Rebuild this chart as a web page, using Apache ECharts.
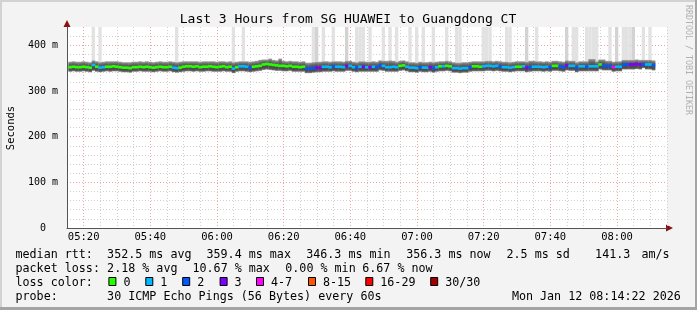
<!DOCTYPE html>
<html><head><meta charset="utf-8">
<script src="https://cdn.jsdelivr.net/npm/echarts@6/dist/echarts.min.js"></script>
<style>html,body{margin:0;padding:0;background:#f3f3f3}#c{width:697px;height:310px}</style>
</head><body><div id="c"></div>
<script>
// ---------------- DATA ----------------
const titleText = 'Last 3 Hours from SG HUAWEI to Guangdong CT';
const firstSample = 15.4;           // minutes after 05:00 of first 1-minute sample
const median = [
352,353,352,352,353,352,351,357,353,351,
352,353,353,354,353,352,351,351,350,352,
352,353,352,353,352,351,352,353,352,352,
353,351,350,351,353,354,354,353,354,352,
353,353,354,353,352,353,354,352,353,349,
352,354,354,353,351,353,354,355,358,359,
358,357,356,355,355,354,355,353,353,352,
353,349,349,350,351,351,353,353,352,354,
353,353,352,355,355,352,351,353,353,352,
352,353,352,356,355,352,352,353,352,355,
356,353,351,351,350,352,351,351,352,350,
352,354,354,355,354,350,350,349,350,350,
352,354,354,353,354,355,355,354,355,353,
352,352,351,352,353,353,354,351,352,353,
353,353,352,353,352,355,355,354,352,356,
355,355,351,354,354,353,354,354,354,358,
355,355,355,352,353,353,358,358,358,358,
359,358,358,358,358,356];
const loss = [
0,0,0,0,0,0,0,1,0,1,
1,0,0,0,0,0,0,0,0,0,
0,0,0,0,0,0,0,0,0,0,
0,1,1,0,0,0,0,0,0,0,
0,0,0,0,0,0,0,0,0,1,
0,1,1,1,2,0,0,0,0,0,
0,0,0,0,0,0,0,0,0,0,
0,2,2,2,3,3,1,1,1,2,
1,1,1,3,1,1,2,1,3,1,
3,1,2,2,1,1,1,1,1,0,
0,1,1,1,1,2,1,1,3,2,
1,0,1,0,0,1,1,1,1,1,
2,0,0,0,1,1,1,1,1,2,
1,1,1,1,0,0,1,3,2,1,
1,1,1,1,2,0,0,2,2,3,
1,1,2,1,1,2,1,1,1,0,
2,2,2,4,1,1,2,2,3,3,
3,3,2,1,1,2];
const smokeLo = [
342,343,342,342,343,342,341,344,342,341,
342,343,342,343,343,342,341,341,340,342,
342,343,342,342,342,341,342,343,342,342,
343,341,340,341,342,343,343,342,343,342,
342,343,343,342,342,342,343,342,342,339,
342,343,343,342,341,342,343,344,346,347,
346,345,344,344,343,343,344,342,342,342,
342,339,339,340,341,341,342,342,342,343,
342,342,342,344,344,342,341,342,342,342,
342,342,342,345,344,342,342,342,342,344,
345,343,341,341,340,342,341,341,342,340,
342,343,343,344,343,340,340,339,340,340,
342,343,343,343,343,344,344,343,344,343,
342,342,341,342,343,343,343,341,342,343,
343,343,342,343,342,344,344,343,342,345,
344,344,341,343,343,343,343,343,343,347,
345,345,345,342,343,343,347,347,347,347,
348,347,350,347,347,345];
const smokeHi = [
364,365,364,364,365,364,363,367,365,363,
364,365,365,365,365,364,363,363,363,364,
364,365,364,365,364,363,364,365,364,364,
365,364,363,364,365,365,365,365,365,364,
365,365,365,365,364,365,365,364,365,363,
364,365,365,365,364,365,366,368,369,369,
371,368,367,371,366,365,366,365,365,364,
365,362,362,363,364,364,365,365,364,365,
365,365,364,366,366,364,363,365,365,364,
364,365,364,367,366,366,367,366,364,366,
367,365,363,363,362,364,363,363,364,363,
364,365,365,366,365,363,362,362,363,363,
364,365,365,365,365,366,366,365,366,365,
364,364,363,364,365,365,365,364,366,366,
365,365,364,365,364,366,366,365,364,367,
366,366,363,365,365,365,370,370,365,369,
369,366,366,364,365,365,368,368,368,368,
369,368,368,368,368,367];
// samples where some pings went above the graph top
const outlierSamples = [7,9,32,49,52,73,74,76,79,83,86,87,88,90,94,96,98,102,104,106,109,113,116,117,
  124,125,126,131,132,137,140,149,151,152,155,156,157,158,162,164,166,167,168,169,172,174];
const outlierHeavy = [74,83,137,149,164,169];
const lossColors = ['#26ff00','#00b8ff','#0059ff','#7e00ff','#ff00ff','#ff5500','#ff0000','#a10000'];
const lossLabels = ['0','1','2','3','4-7','8-15','16-29','30/30'];
const yTickValues = [0,100,200,300,400];
const statMedian = ['median rtt:','352.5 ms avg','359.4 ms max','346.3 ms min','356.3 ms now','2.5 ms sd','141.3','am/s'];
const statLoss = ['packet loss:','2.18 % avg','10.67 % max','0.00 % min','6.67 % now'];
const probeText = ['probe:','30 ICMP Echo Pings (56 Bytes) every 60s','Mon Jan 12 08:14:22 2026'];

// ---------------- CHART ----------------
const MONO = "'DejaVu Sans Mono', 'Liberation Mono', monospace";
const yMax = 440;
const pad = n => (n < 10 ? '0' : '') + n;
const fmtTime = v => { v = Math.round(v); return pad(5 + Math.floor(v / 60)) + ':' + pad(v % 60); };

const smokeData = median.map((_, i) => [firstSample + i, smokeLo[i], smokeHi[i]]);
const medianData = median.map((m, i) => [firstSample + i, m, loss[i]]);
const outlierData = outlierSamples.map(i => [firstSample + i, smokeHi[i], outlierHeavy.indexOf(i) >= 0 ? 1 : 0]);

const smokeGrad = new echarts.graphic.LinearGradient(0, 0, 0, 1, [
  {offset: 0, color: '#a8a8a8'}, {offset: 0.14, color: '#7c7c7c'}, {offset: 0.3, color: '#5e5e5e'},
  {offset: 0.55, color: '#505050'}, {offset: 0.78, color: '#4a4a4a'}, {offset: 0.9, color: '#5e5e5e'}, {offset: 1, color: '#8c8c8c'}]);

function renderOutlier(params, api) {
  const p1 = api.coord([api.value(0), yMax]);
  const p2 = api.coord([api.value(0) + 1, api.value(1)]);
  return {type: 'rect', shape: {x: p1[0], y: p1[1], width: p2[0] - p1[0], height: p2[1] - p1[1]},
    style: {fill: api.value(2) ? '#d3d3d3' : '#e2e2e2'}};
}
function renderSmoke(params, api) {
  const p1 = api.coord([api.value(0), api.value(2)]);
  const p2 = api.coord([api.value(0) + 1, api.value(1)]);
  return {type: 'rect', shape: {x: p1[0], y: p1[1], width: p2[0] - p1[0] + 0.4, height: p2[1] - p1[1]},
    style: {fill: smokeGrad}};
}
function renderMedian(params, api) {
  const p1 = api.coord([api.value(0), api.value(1)]);
  const p2 = api.coord([api.value(0) + 1, api.value(1)]);
  return {type: 'rect', shape: {x: p1[0], y: p1[1] - 1.3, width: p2[0] - p1[0] + 0.3, height: 2.6},
    style: {fill: lossColors[api.value(2)]}};
}

const graphics = [];
// frame
graphics.push({type: 'rect', shape: {x: 0, y: 0, width: 697, height: 2}, style: {fill: '#d2d2d2'}, silent: true});
graphics.push({type: 'rect', shape: {x: 0, y: 0, width: 2, height: 310}, style: {fill: '#d2d2d2'}, silent: true});
graphics.push({type: 'rect', shape: {x: 0, y: 307, width: 697, height: 3}, style: {fill: '#a4a4a4'}, silent: true});
graphics.push({type: 'rect', shape: {x: 695, y: 0, width: 2, height: 310}, style: {fill: '#a4a4a4'}, silent: true});
// title
graphics.push({type: 'text', x: 348, y: 19.5, style: {text: titleText, font: '13px ' + MONO, fill: '#000', align: 'center', verticalAlign: 'middle'}});
graphics.push({type: 'text', x: 11, y: 128, rotation: Math.PI / 2, style: {text: 'Seconds', font: '10.5px ' + MONO, fill: '#000', align: 'center', verticalAlign: 'middle'}});
graphics.push({type: 'text', x: 688, y: 60, rotation: -Math.PI / 2, style: {text: 'RRDTOOL / TOBI OETIKER', font: '8.3px ' + MONO, fill: '#b0b0b0', align: 'center', verticalAlign: 'middle'}});
// axis arrows
graphics.push({type: 'polygon', shape: {points: [[63.5, 27], [70.5, 27], [67, 20]]}, style: {fill: '#8b1010'}});
graphics.push({type: 'polygon', shape: {points: [[666, 224.5], [666, 231.5], [673, 228]]}, style: {fill: '#8b1010'}});
// legend text
const FS = '11.7px ' + MONO;
const medX = [16, 107.6, 207, 306.7, 406.7, 507, 595.6, 642];
statMedian.forEach((t, k) => graphics.push({type: 'text', x: medX[k] - 0.5, y: 254.5, style: {text: t, font: FS, fill: '#000', verticalAlign: 'middle'}}));
const lossX = [16, 107.6, 193, 285.8, 362.7];
statLoss.forEach((t, k) => graphics.push({type: 'text', x: lossX[k] - 0.5, y: 268.8, style: {text: t, font: FS, fill: '#000', verticalAlign: 'middle'}}));
graphics.push({type: 'text', x: 15.5, y: 282.5, style: {text: 'loss color:', font: FS, fill: '#000', verticalAlign: 'middle'}});
const boxX = [108.4, 145.3, 182.2, 219.6, 256, 308, 365.3, 430.2];
lossLabels.forEach((t, k) => {
  graphics.push({type: 'rect', shape: {x: boxX[k] + 0.5, y: 277.5, width: 7, height: 8}, style: {fill: lossColors[k], stroke: '#000', lineWidth: 1}});
  graphics.push({type: 'text', x: boxX[k] + 15, y: 282.5, style: {text: t, font: FS, fill: '#000', verticalAlign: 'middle'}});
});
graphics.push({type: 'text', x: 15.5, y: 296.8, style: {text: probeText[0], font: FS, fill: '#000', verticalAlign: 'middle'}});
graphics.push({type: 'text', x: 107.1, y: 296.8, style: {text: probeText[1], font: FS, fill: '#000', verticalAlign: 'middle'}});
graphics.push({type: 'text', x: 511.9, y: 296.8, style: {text: probeText[2], font: FS, fill: '#000', verticalAlign: 'middle'}});

const chart = echarts.init(document.getElementById('c'), null, {renderer: 'canvas'});
chart.setOption({
  animation: false,
  backgroundColor: '#f3f3f3',
  grid: {left: 67, right: 30, top: 27, bottom: 82, show: true, backgroundColor: '#ffffff', borderWidth: 0, outerBoundsMode: 'none'},
  xAxis: {
    type: 'value', min: 15, max: 195, interval: 5,
    axisLine: {show: true, onZero: false, lineStyle: {color: '#555', width: 1}},
    axisTick: {show: false},
    axisLabel: {formatter: v => (Math.round(v) % 20 === 0 ? fmtTime(v) : ''), margin: 4, fontFamily: MONO, fontSize: 10.5, color: '#000'},
    splitLine: {show: true, lineStyle: {color: ['#cfcfcf', '#f2a0a0', '#cfcfcf', '#cfcfcf'], type: [1, 2], width: 1}}
  },
  yAxis: {
    type: 'value', min: 0, max: yMax, interval: 20,
    axisLine: {show: true, lineStyle: {color: '#555', width: 1}},
    axisTick: {show: false},
    axisLabel: {formatter: v => (yTickValues.indexOf(Math.round(v)) >= 0 ? (v === 0 ? '0  ' : Math.round(v) + ' m') : ''), margin: 9, fontFamily: MONO, fontSize: 10, color: '#000'},
    splitLine: {show: true, showMaxLine: false, lineStyle: {color: ['#f2a0a0', '#cfcfcf', '#cfcfcf', '#cfcfcf', '#cfcfcf'], type: [1, 2], width: 1}}
  },
  series: [
    {type: 'custom', renderItem: renderOutlier, data: outlierData, silent: true, z: 2, clip: true},
    {type: 'custom', renderItem: renderSmoke, data: smokeData, silent: true, z: 3, clip: true},
    {type: 'custom', renderItem: renderMedian, data: medianData, silent: true, z: 4, clip: true}
  ],
  graphic: graphics
});
</script></body></html>
